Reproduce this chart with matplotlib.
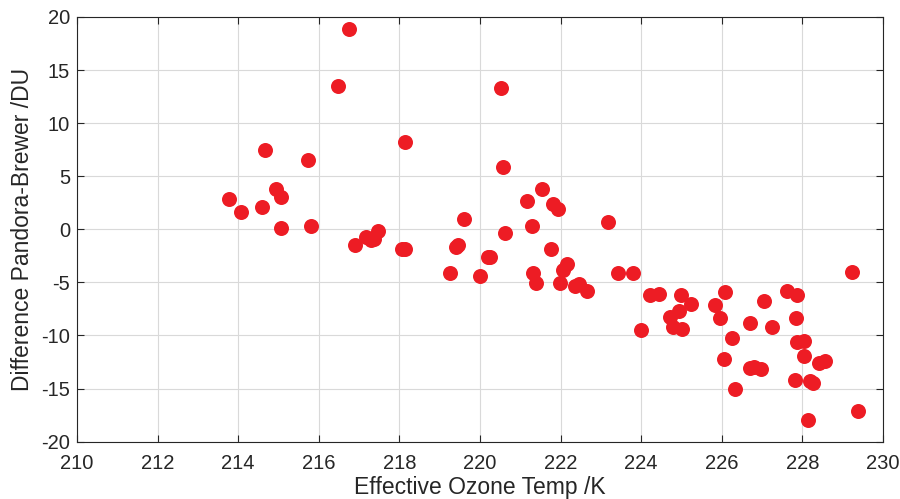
import matplotlib.pyplot as plt

# effective ozone temperature (K) vs. Pandora-Brewer difference (DU)
temp = [213.78, 214.06, 214.60, 214.67, 214.94, 215.06, 215.06, 215.72, 215.80,
        216.48, 216.76, 216.89, 217.16, 217.29, 217.36, 217.46, 218.06, 218.15,
        218.15, 219.26, 219.40, 219.46, 219.60, 220.00, 220.20, 220.26, 220.51,
        220.58, 220.62, 221.16, 221.29, 221.32, 221.39, 221.55, 221.77, 221.82,
        221.94, 221.98, 222.05, 222.15, 222.35, 222.45, 222.65, 223.18, 223.43,
        223.80, 223.99, 224.23, 224.45, 224.71, 224.80, 224.94, 224.98, 225.00,
        225.24, 225.83, 225.95, 226.08, 226.05, 226.26, 226.33, 226.69, 226.70,
        226.80, 226.97, 227.04, 227.25, 227.63, 227.87, 227.85, 227.82, 227.86,
        228.04, 228.05, 228.15, 228.20, 228.27, 228.42, 228.55, 229.22, 229.39]
diff = [2.82, 1.62, 2.09, 7.43, 3.79, 3.06, 0.14, 6.50, 0.33,
        13.50, 18.87, -1.49, -0.77, -1.00, -0.90, -0.14, -1.84, -1.90,
        8.20, -4.16, -1.65, -1.49, 0.96, -4.38, -2.65, -2.60, 13.30,
        5.83, -0.39, 2.69, 0.33, -4.10, -5.04, 3.79, -1.87, 2.37,
        1.87, -5.10, -3.85, -3.31, -5.30, -5.20, -5.85, 0.65, -4.10,
        -4.10, -9.50, -6.20, -6.05, -8.30, -9.20, -7.70, -6.20, -9.40,
        -7.08, -7.14, -8.40, -5.90, -12.20, -10.20, -15.00, -8.80, -13.10,
        -13.00, -13.20, -6.80, -9.25, -5.80, -6.15, -8.40, -14.20, -10.60,
        -10.50, -11.95, -18.00, -14.30, -14.45, -12.60, -12.40, -4.00, -17.10]

xticks = list(range(210, 231, 2))
yticks = list(range(-20, 21, 5))

plt.rcParams['font.family'] = ['Liberation Sans', 'DejaVu Sans']
plt.rcParams['axes.unicode_minus'] = False

fig = plt.figure(figsize=(9, 4.99), dpi=100)
ax = fig.add_axes([0.0856, 0.115, 0.8955, 0.851])

ax.plot(temp, diff, 'o', color='#ED1C24', markersize=10.8, markeredgewidth=0, zorder=3)

ax.set_xlim(210, 230)
ax.set_ylim(-20, 20)
ax.set_xticks(xticks)
ax.set_yticks(yticks)
ax.grid(True, color='#d9d9d9', linewidth=0.8)
ax.set_axisbelow(True)
ax.tick_params(direction='in', top=True, right=True, length=5, width=0.8,
               labelsize=14.5, colors='#262626', pad=5)
ax.tick_params(axis='x', pad=9)
for s in ax.spines.values():
    s.set_color('#262626')
    s.set_linewidth(0.8)

ax.set_xlabel('Effective Ozone Temp /K', fontsize=16.5, color='#262626', labelpad=2)
ax.set_ylabel('Difference Pandora-Brewer /DU', fontsize=16.5, color='#262626', labelpad=5)

fig.savefig('out.png', dpi=100)
